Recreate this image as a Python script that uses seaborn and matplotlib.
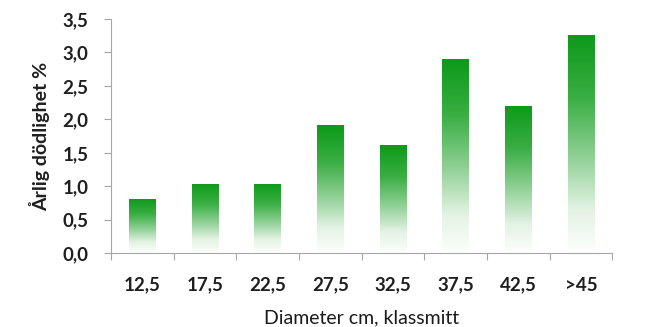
import numpy as np
import pandas as pd
import matplotlib
matplotlib.use("Agg")
import matplotlib.pyplot as plt
from matplotlib.colors import LinearSegmentedColormap
from matplotlib.ticker import FixedLocator, FuncFormatter
import seaborn as sns

# Annual mortality by diameter class
klasser = ["12,5", "17,5", "22,5", "27,5", "32,5", "37,5", "42,5", ">45"]
dodlighet = [0.81, 1.04, 1.04, 1.91, 1.61, 2.90, 2.20, 3.26]

df = pd.DataFrame({"klass": klasser, "dodlighet": dodlighet})

sns.set_theme(style="white")
plt.rcParams["font.family"] = ["Lato", "DejaVu Sans"]

fig = plt.figure(figsize=(6.64, 3.27), dpi=100)
ax = fig.add_axes([0.167, 0.226, 0.755, 0.716])

sns.barplot(data=df, x="klass", y="dodlighet", ax=ax, width=0.42,
            color="#1a9a26", saturation=1)

# Vertical green-to-white gradient inside each bar
cmap = LinearSegmentedColormap.from_list(
    "gron", ["#ffffff", "#e4f3e4", "#8fd095", "#3aae43", "#0d9a1a"])
grad = np.linspace(0, 1, 256).reshape(-1, 1) ** 0.85
for p in ax.patches:
    x0, y0 = p.get_x(), p.get_y()
    w, h = p.get_width(), p.get_height()
    p.set_facecolor("none")
    p.set_edgecolor("none")
    im = ax.imshow(grad, cmap=cmap, origin="lower", aspect="auto",
                   extent=[x0, x0 + w, y0, y0 + h], zorder=2,
                   interpolation="bilinear")
    im.set_clip_path(p)

ax.set_xlim(-0.5, len(klasser) - 0.5)
ax.set_ylim(0, 3.5)
ax.set_yticks(np.arange(0, 3.51, 0.5))
ax.yaxis.set_major_formatter(FuncFormatter(lambda v, _: f"{v:.1f}".replace(".", ",")))

# Category ticks at the boundaries between classes
ax.xaxis.set_major_locator(FixedLocator(np.arange(len(klasser))))
ax.set_xticks(np.arange(-0.5, len(klasser)), minor=True)
ax.tick_params(axis="x", which="major", length=0, pad=17, labelsize=13.5)
ax.tick_params(axis="x", which="minor", length=5, width=0.8, color="#a6a6a6",
               direction="out", bottom=True)
ax.tick_params(axis="y", length=5, width=0.8, color="#a6a6a6", direction="out",
               left=True, labelsize=13.5, pad=11)
for lab in ax.get_xticklabels() + ax.get_yticklabels():
    lab.set_fontweight("bold")
    lab.set_color("#1f1f1f")

for side in ["top", "right"]:
    ax.spines[side].set_visible(False)
for side in ["left", "bottom"]:
    ax.spines[side].set_color("#a6a6a6")
    ax.spines[side].set_linewidth(0.8)

ax.set_xlabel("Diameter cm, klassmitt", fontsize=14, color="#1a1a1a", labelpad=11)
ax.set_ylabel("Årlig dödlighet %", fontsize=14, fontweight="bold",
              color="#1f1f1f", labelpad=9)

fig.savefig("out.png", dpi=100, facecolor="white")
